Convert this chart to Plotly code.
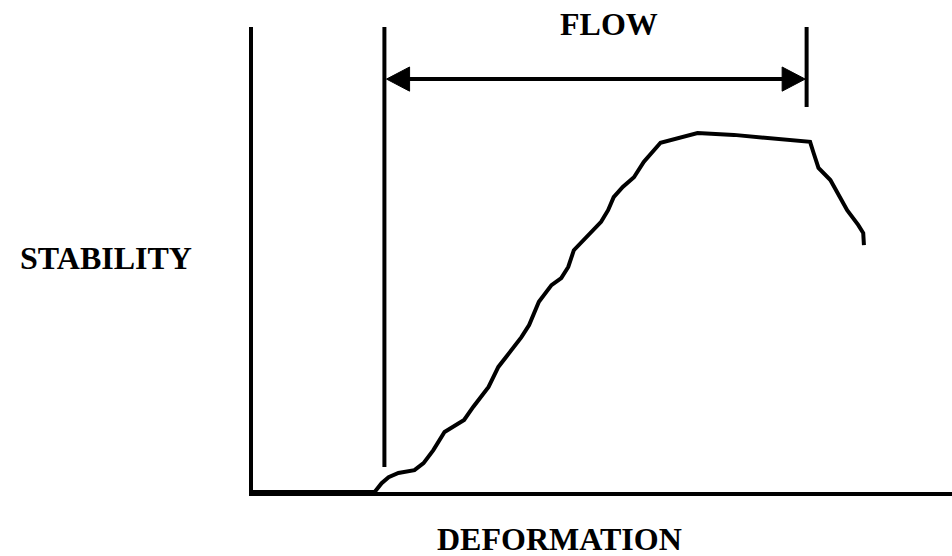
import plotly.graph_objects as go

# Stability curve (arbitrary units: deformation 0-100, stability 0-100)
deformation = [0, 17.4, 18.4, 19.4, 20.8, 23.1, 24.4, 25.8, 27.4, 30.2, 31.5, 33.7, 35.1,
               36.9, 38.4, 39.5, 40.2, 40.9, 42.7, 44.1, 45.1, 45.9, 49.8, 50.8, 51.6,
               52.9, 54.5, 55.9, 58.3, 60.8, 63.6, 68.8, 72.6, 76.5, 79.7, 80.2, 80.9,
               82.6, 83.6, 85.0, 86.6, 87.3, 87.4]
stability = [0, 0, 1.9, 3.2, 4.1, 4.7, 6.2, 9.0, 12.9, 15.5, 18.3, 22.6, 26.9,
             30.5, 33.3, 35.9, 38.5, 40.9, 44.5, 46.0, 48.4, 52.0, 58.1, 60.6, 63.4,
             65.6, 67.7, 71.0, 75.1, 76.1, 77.2, 76.8, 76.3, 75.9, 75.3, 72.9, 69.7,
             67.1, 64.3, 60.6, 57.4, 55.7, 53.1]

# Flow bracket
flow_start = 18.8
flow_end = 79.2
flow_level = 88.8
flow_start_bottom = 5.4
flow_end_bottom = 82.8

labels = {"flow": "FLOW", "x": "DEFORMATION", "y": "STABILITY"}

fig = go.Figure()
fig.add_trace(go.Scatter(x=deformation, y=stability, mode="lines",
                         line=dict(color="black", width=4), cliponaxis=False,
                         hoverinfo="skip", showlegend=False))

shapes = []
# vertical flow markers
shapes.append(dict(type="line", x0=flow_start, x1=flow_start, y0=flow_start_bottom, y1=100,
                   line=dict(color="black", width=4)))
shapes.append(dict(type="line", x0=flow_end, x1=flow_end, y0=flow_end_bottom, y1=100,
                   line=dict(color="black", width=4)))
# arrow shaft
shapes.append(dict(type="line", x0=flow_start + 1.5, x1=flow_end - 1.5, y0=flow_level, y1=flow_level,
                   line=dict(color="black", width=4)))
# arrow heads
hl, hw = 3.3, 2.6
shapes.append(dict(type="path",
                   path=f"M {flow_start+0.3} {flow_level} L {flow_start+0.3+hl} {flow_level+hw} L {flow_start+0.3+hl} {flow_level-hw} Z",
                   fillcolor="black", line=dict(color="black", width=1)))
shapes.append(dict(type="path",
                   path=f"M {flow_end-0.2} {flow_level} L {flow_end-0.2-hl} {flow_level+hw} L {flow_end-0.2-hl} {flow_level-hw} Z",
                   fillcolor="black", line=dict(color="black", width=1)))

font = dict(family="Liberation Serif", size=32, color="black")
annotations = [
    dict(x=0.509, y=1.006, xref="paper", yref="paper", text=f"<b>{labels['flow']}</b>",
         showarrow=False, font=font, xanchor="center", yanchor="middle"),
    dict(x=0.438, y=-0.101, xref="paper", yref="paper", text=f"<b>{labels['x']}</b>",
         showarrow=False, font=font, xanchor="center", yanchor="middle"),
    dict(x=-0.211, y=0.503, xref="paper", yref="paper", text=f"<b>{labels['y']}</b>",
         showarrow=False, font=font, xanchor="center", yanchor="middle"),
]

fig.update_layout(
    width=952, height=556,
    margin=dict(l=253, r=0, t=27, b=64),
    paper_bgcolor="white", plot_bgcolor="white",
    shapes=shapes, annotations=annotations,
    xaxis=dict(range=[0, 100], showgrid=False, zeroline=False, showticklabels=False,
               ticks="", showline=True, linecolor="black", linewidth=4),
    yaxis=dict(range=[0, 100], showgrid=False, zeroline=False, showticklabels=False,
               ticks="", showline=True, linecolor="black", linewidth=4),
)

fig.write_html("out.html", config={"displayModeBar": False},
               post_script="document.body.style.margin='0';document.body.style.overflow='hidden';")
